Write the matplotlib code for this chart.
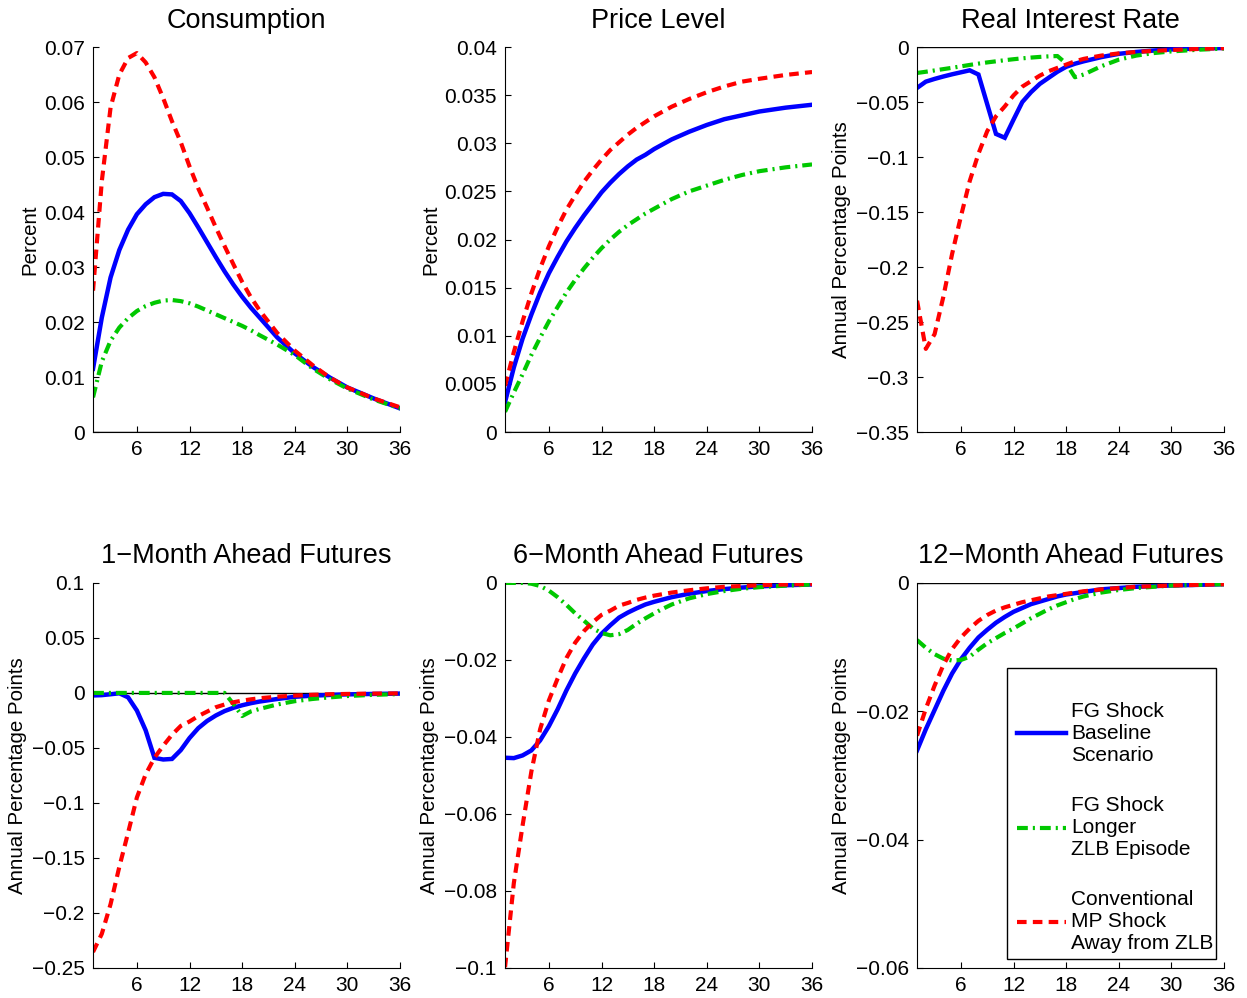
# Impulse responses: FG shock vs longer ZLB vs conventional MP shock

import numpy as np
import matplotlib.pyplot as plt
from matplotlib.ticker import FuncFormatter
from matplotlib.patches import Rectangle

plt.rcParams['font.family'] = ['Liberation Sans', 'DejaVu Sans']

# Months after the shock
months = [1, 2, 3, 4, 5, 6, 7, 8, 9, 10, 11, 12, 13, 14, 15, 16, 17, 18, 19, 20,
          22, 24, 26, 28, 30, 33, 36]

# Consumption (percent)
cons_fg = [0.0115, 0.0208, 0.0281, 0.0331, 0.0368, 0.0396, 0.0414, 0.0427, 0.0433, 0.0432,
           0.0420, 0.0398, 0.0372, 0.0345, 0.0318, 0.0292, 0.0268, 0.0246, 0.0226, 0.0208,
           0.0172, 0.0143, 0.0119, 0.0099, 0.0081, 0.0061, 0.0043]
cons_long = [0.0063, 0.0128, 0.0166, 0.0190, 0.0207, 0.0220, 0.0229, 0.0235, 0.0239, 0.0240,
             0.0238, 0.0234, 0.0228, 0.0221, 0.0214, 0.0207, 0.0200, 0.0193, 0.0185, 0.0176,
             0.0159, 0.0140, 0.0116, 0.0096, 0.0079, 0.0059, 0.0043]
cons_mp = [0.0257, 0.0456, 0.0590, 0.0650, 0.0680, 0.0689, 0.0672, 0.0645, 0.0607, 0.0565,
           0.0527, 0.0483, 0.0443, 0.0408, 0.0372, 0.0338, 0.0305, 0.0273, 0.0245, 0.0221,
           0.0180, 0.0148, 0.0122, 0.0099, 0.0081, 0.0061, 0.0045]

# Price level (percent)
price_fg = [0.0031, 0.0067, 0.0097, 0.0122, 0.0145, 0.0165, 0.0182, 0.0198, 0.0212, 0.0225,
            0.0237, 0.0249, 0.0259, 0.0268, 0.0276, 0.0283, 0.0288, 0.0294, 0.0299, 0.0304,
            0.0312, 0.0319, 0.0325, 0.0329, 0.0333, 0.0337, 0.0340]
price_long = [0.0021, 0.0041, 0.0060, 0.0080, 0.0098, 0.0115, 0.0130, 0.0145, 0.0158, 0.0170,
              0.0181, 0.0191, 0.0200, 0.0208, 0.0215, 0.0221, 0.0227, 0.0232, 0.0237, 0.0242,
              0.0250, 0.0256, 0.0262, 0.0267, 0.0271, 0.0275, 0.0278]
price_mp = [0.0048, 0.0083, 0.0115, 0.0144, 0.0170, 0.0193, 0.0213, 0.0231, 0.0246, 0.0260,
            0.0272, 0.0283, 0.0293, 0.0301, 0.0309, 0.0316, 0.0322, 0.0328, 0.0333, 0.0338,
            0.0346, 0.0353, 0.0359, 0.0364, 0.0367, 0.0371, 0.0374]

# Real interest rate (annual percentage points)
rr_fg = [-0.0372, -0.0315, -0.0290, -0.0268, -0.0248, -0.0230, -0.0212, -0.0250, -0.0520, -0.0790,
         -0.0825, -0.0660, -0.0500, -0.0410, -0.0335, -0.0280, -0.0225, -0.0180, -0.0152, -0.0130,
         -0.0092, -0.0062, -0.0045, -0.0032, -0.0022, -0.0014, -0.0009]
rr_long = [-0.0236, -0.0225, -0.0213, -0.0201, -0.0189, -0.0176, -0.0163, -0.0151, -0.0140, -0.0130,
           -0.0120, -0.0111, -0.0103, -0.0096, -0.0090, -0.0085, -0.0082, -0.0150, -0.0275, -0.0250,
           -0.0175, -0.0115, -0.0078, -0.0055, -0.0040, -0.0025, -0.0014]
rr_mp = [-0.2306, -0.2744, -0.2610, -0.2270, -0.1880, -0.1540, -0.1220, -0.0970, -0.0765, -0.0630,
         -0.0540, -0.0440, -0.0360, -0.0310, -0.0260, -0.0220, -0.0190, -0.0160, -0.0130, -0.0108,
         -0.0078, -0.0058, -0.0045, -0.0035, -0.0027, -0.0018, -0.0010]

# 1-month ahead futures
f1_fg = [-0.0023, -0.0020, -0.0012, -0.0003, -0.0040, -0.0160, -0.0340, -0.0590, -0.0605, -0.0600,
         -0.0520, -0.0410, -0.0320, -0.0255, -0.0205, -0.0165, -0.0135, -0.0112, -0.0093, -0.0078,
         -0.0055, -0.0035, -0.0025, -0.0018, -0.0013, -0.0009, -0.0006]
f1_long = [0.0, 0.0, 0.0, 0.0, 0.0, 0.0, 0.0, 0.0, 0.0, 0.0,
           0.0, 0.0, 0.0, 0.0, 0.0, 0.0, -0.0100, -0.0210, -0.0168, -0.0145,
           -0.0105, -0.0075, -0.0055, -0.0040, -0.0028, -0.0017, -0.0010]
f1_mp = [-0.2355, -0.2190, -0.1920, -0.1580, -0.1270, -0.0950, -0.0740, -0.0590, -0.0480, -0.0380,
         -0.0300, -0.0260, -0.0210, -0.0170, -0.0130, -0.0105, -0.0085, -0.0070, -0.0058, -0.0048,
         -0.0034, -0.0024, -0.0017, -0.0012, -0.0009, -0.0006, -0.0004]

# 6-month ahead futures
f6_fg = [-0.0454, -0.0455, -0.0448, -0.0435, -0.0409, -0.0372, -0.0328, -0.0279, -0.0235, -0.0196,
         -0.0160, -0.0132, -0.0110, -0.0090, -0.0077, -0.0066, -0.0056, -0.0049, -0.0043, -0.0037,
         -0.0028, -0.0021, -0.0016, -0.0012, -0.0009, -0.0006, -0.0004]
f6_long = [0.0, 0.0, 0.0, -0.0002, -0.0008, -0.0020, -0.0037, -0.0057, -0.0079, -0.0098,
           -0.0118, -0.0130, -0.0136, -0.0133, -0.0122, -0.0106, -0.0092, -0.0079, -0.0067, -0.0056,
           -0.0040, -0.0029, -0.0021, -0.0015, -0.0011, -0.0007, -0.0004]
f6_mp = [-0.0998, -0.0780, -0.0630, -0.0490, -0.0380, -0.0305, -0.0248, -0.0195, -0.0155, -0.0125,
         -0.0102, -0.0083, -0.0072, -0.0059, -0.0052, -0.0044, -0.0038, -0.0033, -0.0029, -0.0025,
         -0.0019, -0.0014, -0.0010, -0.0008, -0.0006, -0.0004, -0.0003]

# 12-month ahead futures
f12_fg = [-0.0261, -0.0228, -0.0198, -0.0168, -0.0141, -0.0119, -0.0101, -0.0085, -0.0073, -0.0062,
          -0.0053, -0.0045, -0.0039, -0.0033, -0.0029, -0.0025, -0.0021, -0.0018, -0.0016, -0.0014,
          -0.0010, -0.0008, -0.0006, -0.0005, -0.0004, -0.0003, -0.0002]
f12_long = [-0.0089, -0.0101, -0.0111, -0.0118, -0.0121, -0.0120, -0.0115, -0.0104, -0.0094, -0.0086,
            -0.0078, -0.0071, -0.0063, -0.0055, -0.0048, -0.0041, -0.0035, -0.0030, -0.0025, -0.0021,
            -0.0015, -0.0011, -0.0008, -0.0006, -0.0004, -0.0003, -0.0002]
f12_mp = [-0.0238, -0.0196, -0.0160, -0.0128, -0.0103, -0.0085, -0.0071, -0.0059, -0.0050, -0.0043,
          -0.0038, -0.0034, -0.0030, -0.0027, -0.0024, -0.0021, -0.0019, -0.0017, -0.0015, -0.0013,
          -0.0010, -0.0008, -0.0006, -0.0005, -0.0004, -0.0003, -0.0002]

titles = ["Consumption", "Price Level", "Real Interest Rate",
          "1\u2212Month Ahead Futures", "6\u2212Month Ahead Futures", "12\u2212Month Ahead Futures"]
ylabels = ["Percent", "Percent", "Annual Percentage Points",
           "Annual Percentage Points", "Annual Percentage Points", "Annual Percentage Points"]
series = [(cons_fg, cons_long, cons_mp), (price_fg, price_long, price_mp),
          (rr_fg, rr_long, rr_mp), (f1_fg, f1_long, f1_mp),
          (f6_fg, f6_long, f6_mp), (f12_fg, f12_long, f12_mp)]
ylims = [(0, 0.07), (0, 0.04), (-0.35, 0), (-0.25, 0.1), (-0.1, 0), (-0.06, 0)]
ysteps = [0.01, 0.005, 0.05, 0.05, 0.02, 0.02]

labels = ["FG Shock\nBaseline\nScenario",
          "FG Shock\nLonger\nZLB Episode",
          "Conventional\nMP Shock\nAway from ZLB"]


def fmt(v, pos):
    s = '{:g}'.format(round(v, 4))
    if s == '-0':
        s = '0'
    return s.replace('-', '\u2212')


fig = plt.figure(figsize=(12.47, 9.98), dpi=100)

# axes positions in figure fractions
lefts = [0.0746, 0.405, 0.7354]
bottoms = [0.5671, 0.0301]
w, h = 0.2462, 0.3858

for i in range(6):
    ax = fig.add_axes([lefts[i % 3], bottoms[i // 3], w, h])
    fg, lz, mp = series[i]
    ax.axhline(0, color='k', lw=1)
    ax.plot(months, fg, color='#0000ff', lw=3.2, solid_joinstyle='miter', label=labels[0])
    ax.plot(months, lz, color='#00c800', lw=3, dashes=(2.6, 1.2, 0.5, 1.2), label=labels[1])
    ax.plot(months, mp, color='#ff0000', lw=3, dashes=(2.3, 1.5), label=labels[2])

    ax.set_xlim(1, 36)
    ax.set_xticks([6, 12, 18, 24, 30, 36])
    lo, hi = ylims[i]
    ax.set_ylim(lo, hi)
    ax.set_yticks(np.round(np.arange(lo, hi + ysteps[i] / 2, ysteps[i]), 4))
    ax.yaxis.set_major_formatter(FuncFormatter(fmt))

    ax.spines['top'].set_visible(False)
    ax.spines['right'].set_visible(False)
    ax.tick_params(direction='in', length=4, labelsize=15, pad=6)
    ax.set_title(titles[i], fontsize=19.5, pad=14)
    ax.set_ylabel(ylabels[i], fontsize=14.8, labelpad=3)

    if i == 5:
        # legend box drawn separately: it has more room above the first entry
        ax.add_patch(Rectangle((0.293, 0.022), 0.68, 0.756, transform=ax.transAxes,
                               facecolor='white', edgecolor='k', lw=1, zorder=4.5))
        ax.legend(loc='lower left', bbox_to_anchor=(0.305, 0.022), fontsize=15,
                  frameon=False, handlelength=2.35, handletextpad=0.25,
                  labelspacing=1.5, borderpad=0.3, borderaxespad=0)

plt.savefig("out.png", dpi=100)
